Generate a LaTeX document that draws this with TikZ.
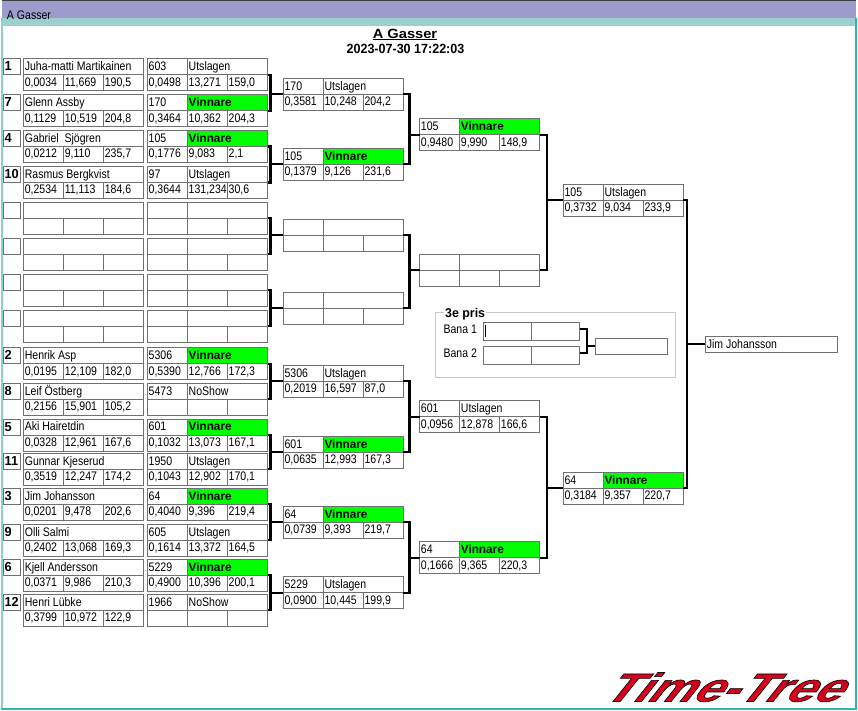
\documentclass[tikz,border=0pt]{standalone}
\usepackage{fontspec}
\setmainfont{Liberation Sans}
\newfontfamily\cellfont[FakeStretch=0.85]{Liberation Sans}
\newfontfamily\boldfont[FakeStretch=0.98]{Liberation Sans}
\newfontfamily\headfont[FakeStretch=1.1]{Liberation Sans}
\newfontfamily\datefont[FakeStretch=0.94]{Liberation Sans}
\newfontfamily\logofont[FakeSlant=0.8,FakeStretch=1.26]{Liberation Sans}
\definecolor{gridgray}{HTML}{707070}
\definecolor{framegray}{HTML}{C8C8C8}
\definecolor{titleblue}{HTML}{9D9BCB}
\definecolor{titleteal}{HTML}{9CD0CF}
\definecolor{edgeteal}{HTML}{2FB5B5}
\definecolor{edgelight}{HTML}{8FD0CF}
\definecolor{wingreen}{HTML}{00FF00}
\definecolor{logored}{HTML}{D8001C}
\tikzset{
  gridbox/.style={draw=gridgray,line width=.75pt,inner sep=0,outer sep=0,minimum width=90pt,minimum height=24pt},
  gridline/.style={draw=gridgray,line width=.75pt},
  plainbox/.style={draw=gridgray,line width=.75pt,inner sep=0,outer sep=0},
  celltxt/.style={inner sep=0,outer sep=0,anchor=base west,font=\fontsize{9.3}{10}\cellfont},
  wintxt/.style={inner sep=0,outer sep=0,anchor=base west,font=\fontsize{9}{10}\boldfont\bfseries},
  seedtxt/.style={inner sep=0,outer sep=0,anchor=base west,font=\fontsize{9.8}{10}\boldfont\bfseries},
  bracketline/.style={draw=black,line width=1.7pt,line cap=butt,line join=miter},
}
% text only when non-empty
\newcommand\celltext[5][celltxt]{\if\relax\detokenize{#5}\relax\else\node[#1] (#2) at (#3,#4) {#5};\fi}
% grid of a box: name,x,y
\newcommand\gridlower[3]{%
  \node[gridbox,anchor=north west] (#1) at (#2,#3) {};
  \draw[gridline] (#2,#3+16) -- (#2+120,#3+16);
  \draw[gridline] (#2+40,#3+16) -- (#2+40,#3+32);
  \draw[gridline] (#2+80,#3+16) -- (#2+80,#3+32);
}
% result box: name,x,y,id,status,a,b,c
\newcommand\resbox[8]{%
  \gridlower{#1}{#2}{#3}%
  \draw[gridline] (#2+40,#3) -- (#2+40,#3+16);
  \celltext{#1i}{#2+1.2}{#3+11.9}{#4}%
  \celltext{#1s}{#2+41.2}{#3+11.9}{#5}%
  \celltext{#1a}{#2+1.2}{#3+27.4}{#6}%
  \celltext{#1b}{#2+41.2}{#3+27.4}{#7}%
  \celltext{#1c}{#2+81.2}{#3+27.4}{#8}%
}
% winner box with green status cell: name,x,y,id,a,b,c
\newcommand\winbox[7]{%
  \fill[wingreen] (#2+40,#3) rectangle (#2+120,#3+16);
  \gridlower{#1}{#2}{#3}%
  \draw[gridline] (#2+40,#3) -- (#2+40,#3+16);
  \celltext{#1i}{#2+1.2}{#3+11.9}{#4}%
  \celltext[wintxt]{#1s}{#2+41.2}{#3+11.9}{Vinnare}%
  \celltext{#1a}{#2+1.2}{#3+27.4}{#5}%
  \celltext{#1b}{#2+41.2}{#3+27.4}{#6}%
  \celltext{#1c}{#2+81.2}{#3+27.4}{#7}%
}
% driver row: name,y,seed,driver,a,b,c
\newcommand\driver[7]{%
  \node[plainbox,minimum width=12.6pt,minimum height=12pt,anchor=north west] (#1seedbox) at (3.5,#2) {};
  \celltext[seedtxt]{#1seed}{4.6}{#2+12}{#3}%
  \gridlower{#1}{23.5}{#2}%
  \celltext{#1n}{24.8}{#2+11.9}{#4}%
  \celltext{#1a}{24.8}{#2+27.4}{#5}%
  \celltext{#1b}{64.8}{#2+27.4}{#6}%
  \celltext{#1c}{104.8}{#2+27.4}{#7}%
}
% bracket: from,to,target,dx
\newcommand\bracket[4]{%
  \draw[bracketline] (#1.east) -- ++(#4,0) coordinate (#3bar) |- (#2.east);
  \draw[bracketline] (#3.west) -- (#3bar |- #3.west);
}
\begin{document}
\begin{tikzpicture}[x=.75pt,y=-.75pt]
\useasboundingbox (0,0) rectangle (858,711);
\fill[white] (0,0) rectangle (858,711);
% window frame
\fill[titleblue] (2,1) rectangle (856,18);
\fill[titleteal] (2,18) rectangle (856,26);
\fill[edgelight] (1.5,18) rectangle (2.7,709.5);
\fill[edgeteal] (855,18) rectangle (856.6,709.5);
\fill[edgeteal] (1.5,708.4) rectangle (856.6,709.6);
\fill[black!75] (2,0) rectangle (856,1.2);
\node[celltxt] (wintitle) at (7,19) {A Gasser};
% heading
\node[inner sep=0,anchor=base,font=\fontsize{10}{12}\headfont\bfseries] (head) at (405,38.3) {A Gasser};
\draw[black,line width=.8pt] (head.west |- 0,39.8) -- (head.east |- 0,39.8);
\node[inner sep=0,anchor=base,font=\fontsize{10}{12}\datefont\bfseries] (stamp) at (405.5,53.2) {2023-07-30 17:22:03};
% column 1: drivers
\driver{d1}{58.7}{1}{Juha-matti Martikainen}{0,0034}{11,669}{190,5}
\driver{d2}{94.7}{7}{Glenn Assby}{0,1129}{10,519}{204,8}
\driver{d3}{130.5}{4}{Gabriel\ \ Sjögren}{0,0212}{9,110}{235,7}
\driver{d4}{166.5}{10}{Rasmus Bergkvist}{0,2534}{11,113}{184,6}
\driver{d5}{202.3}{}{}{}{}{}
\driver{d6}{238.3}{}{}{}{}{}
\driver{d7}{274.3}{}{}{}{}{}
\driver{d8}{310.3}{}{}{}{}{}
\driver{d9}{347.7}{2}{Henrik Asp}{0,0195}{12,109}{182,0}
\driver{d10}{383.3}{8}{Leif Östberg}{0,2156}{15,901}{105,2}
\driver{d11}{419}{5}{Aki Hairetdin}{0,0328}{12,961}{167,6}
\driver{d12}{453.3}{11}{Gunnar Kjeserud}{0,3519}{12,247}{174,2}
\driver{d13}{488.3}{3}{Jim Johansson}{0,0201}{9,478}{202,6}
\driver{d14}{524.3}{9}{Olli Salmi}{0,2402}{13,068}{169,3}
\driver{d15}{559.3}{6}{Kjell Andersson}{0,0371}{9,986}{210,3}
\driver{d16}{594.3}{12}{Henri Lübke}{0,3799}{10,972}{122,9}
% column 2: first-run results
\resbox{r1}{147.5}{58.7}{603}{Utslagen}{0,0498}{13,271}{159,0}
\winbox{r2}{147.5}{94.7}{170}{0,3464}{10,362}{204,3}
\winbox{r3}{147.5}{130.5}{105}{0,1776}{9,083}{2,1}
\resbox{r4}{147.5}{166.5}{97}{Utslagen}{0,3644}{131,234}{30,6}
\resbox{r5}{147.5}{202.3}{}{}{}{}{}
\resbox{r6}{147.5}{238.3}{}{}{}{}{}
\resbox{r7}{147.5}{274.3}{}{}{}{}{}
\resbox{r8}{147.5}{310.3}{}{}{}{}{}
\winbox{r9}{147.5}{347.7}{5306}{0,5390}{12,766}{172,3}
\resbox{r10}{147.5}{383.3}{5473}{NoShow}{}{}{}
\winbox{r11}{147.5}{419}{601}{0,1032}{13,073}{167,1}
\resbox{r12}{147.5}{453.3}{1950}{Utslagen}{0,1043}{12,902}{170,1}
\winbox{r13}{147.5}{488.3}{64}{0,4040}{9,396}{219,4}
\resbox{r14}{147.5}{524.3}{605}{Utslagen}{0,1614}{13,372}{164,5}
\winbox{r15}{147.5}{559.3}{5229}{0,4900}{10,396}{200,1}
\resbox{r16}{147.5}{594.3}{1966}{NoShow}{}{}{}
% column 3
\resbox{q1}{283.4}{78.3}{170}{Utslagen}{0,3581}{10,248}{204,2}
\winbox{q2}{283.4}{148.3}{105}{0,1379}{9,126}{231,6}
\resbox{q3}{283.4}{219.3}{}{}{}{}{}
\resbox{q4}{283.4}{292.3}{}{}{}{}{}
\resbox{q5}{283.4}{365.3}{5306}{Utslagen}{0,2019}{16,597}{87,0}
\winbox{q6}{283.4}{436.3}{601}{0,0635}{12,993}{167,3}
\winbox{q7}{283.4}{506.3}{64}{0,0739}{9,393}{219,7}
\resbox{q8}{283.4}{576.7}{5229}{Utslagen}{0,0900}{10,445}{199,9}
% column 4
\winbox{s1}{419.7}{118.7}{105}{0,9480}{9,990}{148,9}
\resbox{s2}{419.7}{254.3}{}{}{}{}{}
\resbox{s3}{419.7}{400.7}{601}{Utslagen}{0,0956}{12,878}{166,6}
\winbox{s4}{419.7}{541.7}{64}{0,1666}{9,365}{220,3}
% column 5
\resbox{t1}{563.4}{184.3}{105}{Utslagen}{0,3732}{9,034}{233,9}
\winbox{t2}{563.4}{472.3}{64}{0,3184}{9,357}{220,7}
% final
\node[plainbox,minimum width=99pt,minimum height=12pt,anchor=north west] (final) at (705.3,336.3) {};
\node[celltxt] (finalname) at (706.8,348.2) {Jim Johansson};
% brackets
\bracket{r1}{r2}{q1}{3}
\bracket{r3}{r4}{q2}{3}
\bracket{r5}{r6}{q3}{3}
\bracket{r7}{r8}{q4}{3}
\bracket{r9}{r10}{q5}{3}
\bracket{r11}{r12}{q6}{3}
\bracket{r13}{r14}{q7}{3}
\bracket{r15}{r16}{q8}{3}
\bracket{q1}{q2}{s1}{6}
\bracket{q3}{q4}{s2}{6}
\bracket{q5}{q6}{s3}{6}
\bracket{q7}{q8}{s4}{6}
\bracket{s1}{s2}{t1}{7.6}
\bracket{s3}{s4}{t2}{7.6}
\bracket{t1}{t2}{final}{3.4}
% 3e pris
\node[draw=framegray,line width=.75pt,inner sep=0,outer sep=0,minimum width=180.3pt,minimum height=49pt,anchor=north west] (frame) at (435.3,312.4) {};
\node[fill=white,inner sep=1pt,anchor=base west,font=\fontsize{9.5}{10}\boldfont\bfseries] (frametitle) at (443.5,317) {3e pris};
\node[celltxt] (bana1txt) at (443.5,333.5) {Bana 1};
\node[celltxt] (bana2txt) at (443.5,357) {Bana 2};
\node[plainbox,minimum width=72.3pt,minimum height=13.5pt,anchor=north west] (bana1) at (483.3,322.3) {};
\node[plainbox,minimum width=72.3pt,minimum height=13.5pt,anchor=north west] (bana2) at (483.3,346.3) {};
\draw[gridline] (bana1.north) -- (bana1.south);
\draw[gridline] (bana2.north) -- (bana2.south);
\draw[black,line width=.75pt] (485.3,325) -- (485.3,337);
\node[plainbox,minimum width=54.3pt,minimum height=12pt,anchor=north west] (pris) at (595.3,338.3) {};
\draw[bracketline] ([yshift=1.5pt]bana1.east) -- ++(5.25pt,0) coordinate (prisbar) |- ([yshift=1.5pt]bana2.east);
\draw[bracketline] (pris.west) -- (prisbar |- pris.west);
% logo
\node[inner sep=0,anchor=base west,text=logored,font=\fontsize{30}{32}\logofont\bfseries] (logo) at (601,701.5) {\special{pdf:code 2 Tr 0.45 w 0 0 0 RG}Time-Tree\special{pdf:code 0 Tr}};
\end{tikzpicture}
\end{document}
